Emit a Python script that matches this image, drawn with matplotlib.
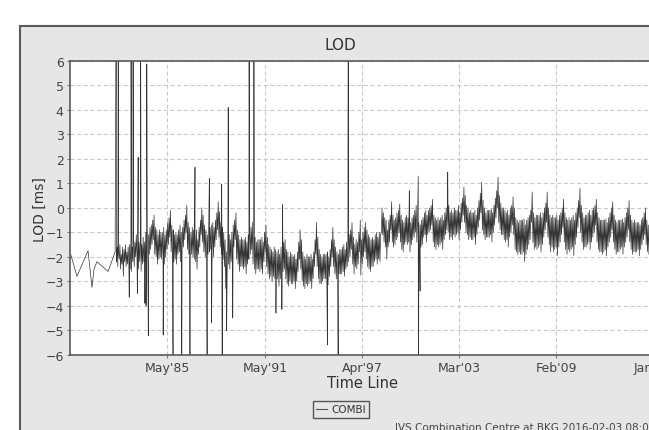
import matplotlib
matplotlib.use("Agg")
import matplotlib.pyplot as plt
from matplotlib.patches import Rectangle
from matplotlib.lines import Line2D
import pandas as pd

# sparse early sessions
early_dates = ['1979-06-15', '1979-11-01', '1980-07-05', '1980-10-01',
               '1980-11-15', '1981-01-20', '1981-09-25', '1982-03-01']
early_lod = [-1.9, -2.8, -1.75, -3.25, -2.5, -2.2, -2.6, -1.8]

# monthly upper / lower reading of the LOD band [ms], Apr 1982 .. Jan 2015
lod_high = [
    -1.6, -1.8, -1.5, -1.9, -1.6, -1.7, -1.5, -1.8, -1.6,                       # 1982 Apr-Dec
    -1.5, -1.3, -1.6, -1.2, -1.4, -1.1, -1.0, -1.4, -1.3, -1.5, -1.2, -1.4,    # 1983
    -1.0, -0.9, -1.1, -0.8, -0.7, -0.5, -0.3, -0.8, -0.9, -1.1, -0.9, -1.0,    # 1984
    -1.0, -0.8, -1.1, -0.9, -0.6, -0.4, -0.1, -0.7, -0.9, -1.1, -1.0, -1.1,    # 1985
    -0.9, -0.7, -1.0, -0.8, -0.5, -0.3, 0.1, -0.6, -0.8, -1.0, -0.8, -0.9,     # 1986
    -1.0, -0.9, -1.3, -0.8, -0.5, 0.0, -0.3, -0.7, -0.9, -1.1, -0.9, -0.8,     # 1987
    -0.7, -0.6, -0.8, -0.5, -0.2, 0.25, -0.15, -0.6, -0.8, -1.0, -1.3, -1.8,   # 1988
    -1.4, -1.1, -1.3, -1.0, -0.7, -0.5, -0.2, -0.9, -1.1, -1.3, -1.2, -1.3,    # 1989
    -1.3, -1.2, -1.4, -1.1, -1.0, -0.8, -0.6, -1.1, -1.2, -1.4, -1.3, -1.3,    # 1990
    -1.3, -1.2, -1.4, -1.0, -0.7, -1.2, -1.5, -1.6, -1.7, -1.8, -1.6, -1.7,    # 1991
    -1.8, -1.7, -1.9, -1.6, -1.5, -1.4, -1.3, -1.7, -1.8, -2.0, -1.8, -1.9,    # 1992
    -2.0, -1.9, -2.1, -1.8, -1.4, -0.9, -1.3, -1.8, -2.0, -2.1, -1.9, -2.0,    # 1993
    -2.0, -1.9, -2.1, -1.8, -1.3, -0.6, -1.2, -1.7, -1.9, -2.0, -1.9, -1.9,    # 1994
    -1.9, -1.8, -2.0, -1.7, -1.3, -0.8, -1.3, -1.6, -1.8, -1.9, -1.7, -1.7,    # 1995
    -1.6, -1.5, -1.7, -1.4, -1.3, -1.1, -0.9, -0.6, -1.2, -1.5, -1.3, -1.4,    # 1996
    -1.0, -0.5, -1.3, -1.0, -0.8, -0.6, -0.9, -1.1, -1.2, -1.3, -1.2, -1.3,    # 1997
    -1.1, -1.0, -1.2, -1.0, -1.1, 0.0, -0.2, -0.4, -0.5, -0.9, -0.5, -0.3,     # 1998
    0.25, -0.3, -0.5, -0.4, -0.2, -0.1, 0.15, -0.3, -0.5, -0.6, -0.4, -0.3,    # 1999
    -0.4, -0.3, -0.6, -0.4, -0.3, -0.1, 0.1, -0.4, -0.6, -0.7, -0.5, -0.4,     # 2000
    -0.2, -0.1, -0.3, -0.1, 0.0, 0.1, 0.35, -0.3, -0.4, -0.5, -0.4, -0.5,      # 2001
    -0.4, -0.3, -0.5, -0.2, 0.0, 0.2, 0.1, -0.2, -0.1, -0.2, 0.0, -0.1,        # 2002
    -0.1, 0.1, -0.2, 0.2, 0.4, 0.85, 0.5, 0.1, 0.0, -0.2, -0.1, -0.2,          # 2003
    -0.2, -0.1, -0.3, 0.0, 0.3, 0.6, 1.05, 0.3, 0.0, -0.2, -0.1, -0.1,         # 2004
    -0.1, -0.05, -0.2, 0.1, 0.4, 0.7, 1.25, 0.5, 0.2, 0.0, 0.0, -0.1,          # 2005
    -0.2, -0.1, -0.3, 0.0, 0.1, 0.45, 0.0, -0.4, -0.5, -0.6, -0.5, -0.5,       # 2006
    -0.5, -0.45, -0.7, -0.5, -0.4, -0.3, -0.1, 0.65, -0.2, -0.4, -0.3, -0.3,   # 2007
    -0.3, -0.2, -0.4, -0.2, 0.0, 0.2, 0.65, 0.0, -0.3, -0.4, -0.3, -0.4,       # 2008
    -0.4, -0.3, -0.5, -0.3, -0.2, 0.0, 0.35, -0.2, -0.4, -0.5, -0.4, -0.5,     # 2009
    -0.4, -0.3, -0.5, -0.2, 0.0, 0.3, 0.8, 0.1, -0.2, -0.4, -0.3, -0.3,        # 2010
    -0.2, -0.1, -0.3, -0.1, 0.0, 0.1, 0.35, -0.2, -0.4, -0.5, -0.5, -0.5,      # 2011
    -0.5, -0.45, -0.6, -0.4, -0.2, 0.0, 0.25, -0.3, -0.5, -0.6, -0.5, -0.5,    # 2012
    -0.5, -0.45, -0.6, -0.4, -0.2, 0.0, 0.3, -0.3, -0.5, -0.6, -0.5, -0.6,     # 2013
    -0.6, -0.6, -0.7, -0.5, -0.4, -0.2, 0.0, -0.5, -0.7, -0.8, -0.7, -0.7,     # 2014
    -0.8,                                                                       # 2015 Jan
]
lod_low = [
    -2.2, -2.4, -2.1, -2.5, -2.3, -2.8, -2.2, -2.4, -2.3,                       # 1982 Apr-Dec
    -2.3, -2.5, -2.6, -2.2, -2.4, -2.0, -1.9, -2.5, -2.2, -2.6, -2.3, -2.2,    # 1983
    -2.0, -2.1, -2.3, -1.9, -1.7, -1.5, -1.3, -1.9, -2.0, -2.3, -2.1, -2.0,    # 1984
    -2.1, -1.9, -2.3, -2.0, -1.7, -1.5, -1.2, -1.8, -2.0, -2.2, -2.1, -2.3,    # 1985
    -1.9, -1.8, -2.2, -1.9, -1.6, -1.3, -1.0, -1.7, -1.9, -2.1, -1.9, -2.0,    # 1986
    -2.1, -2.2, -2.5, -1.9, -1.6, -1.1, -1.4, -1.8, -2.0, -2.1, -1.9, -1.8,    # 1987
    -1.7, -1.6, -2.0, -1.6, -1.3, -0.9, -1.2, -1.6, -1.9, -2.1, -2.4, -3.3,    # 1988
    -2.6, -2.3, -2.5, -2.2, -1.9, -1.6, -1.3, -2.1, -2.3, -2.6, -2.4, -2.4,    # 1989
    -2.5, -2.4, -2.7, -2.3, -2.1, -1.9, -1.7, -2.3, -2.5, -2.7, -2.5, -2.5,    # 1990
    -2.6, -2.5, -2.7, -2.2, -1.8, -2.4, -2.7, -2.9, -2.8, -3.0, -2.8, -2.9,    # 1991
    -3.0, -2.9, -3.2, -2.9, -2.7, -2.6, -2.5, -2.9, -3.1, -3.2, -3.0, -3.1,    # 1992
    -3.1, -3.0, -3.3, -3.0, -2.6, -2.1, -2.5, -3.0, -3.2, -3.3, -3.1, -3.2,    # 1993
    -3.1, -3.0, -3.3, -2.9, -2.4, -1.9, -2.4, -2.9, -3.1, -3.1, -3.0, -2.9,    # 1994
    -2.9, -3.0, -3.15, -2.8, -2.4, -2.0, -2.4, -2.7, -2.9, -2.8, -2.7, -2.7,   # 1995
    -2.7, -2.6, -2.8, -2.5, -2.4, -2.2, -2.0, -1.7, -2.3, -2.7, -2.4, -2.5,    # 1996
    -2.3, -1.8, -2.75, -2.3, -2.0, -1.8, -2.1, -2.4, -2.5, -2.6, -2.4, -2.4,   # 1997
    -2.2, -2.1, -2.3, -2.1, -2.2, -1.0, -1.1, -1.4, -1.6, -2.1, -1.6, -1.4,    # 1998
    -0.9, -1.4, -1.6, -1.5, -1.3, -1.2, -1.0, -1.4, -1.7, -1.8, -1.5, -1.4,    # 1999
    -1.5, -1.4, -1.8, -1.5, -1.3, -1.2, -1.0, -1.4, -1.7, -1.8, -1.6, -1.5,    # 2000
    -1.2, -1.1, -1.4, -1.1, -1.0, -0.9, -0.7, -1.4, -1.6, -1.7, -1.5, -1.6,    # 2001
    -1.5, -1.4, -1.7, -1.3, -1.1, -0.9, -1.0, -1.3, -1.2, -1.3, -1.1, -1.2,    # 2002
    -1.1, -1.0, -1.3, -0.9, -0.6, -0.3, -0.6, -1.0, -1.1, -1.3, -1.2, -1.3,    # 2003
    -1.3, -1.2, -1.5, -1.1, -0.8, -0.5, -0.2, -0.9, -1.1, -1.3, -1.2, -1.2,    # 2004
    -1.2, -1.1, -1.4, -1.0, -0.7, -0.4, 0.0, -0.6, -0.9, -1.1, -1.1, -1.3,     # 2005
    -1.4, -1.3, -1.6, -1.2, -1.0, -0.7, -1.1, -1.7, -1.8, -1.9, -1.8, -1.9,    # 2006
    -1.9, -1.8, -2.2, -1.9, -1.7, -1.5, -1.3, -0.6, -1.4, -1.7, -1.6, -1.7,    # 2007
    -1.6, -1.5, -1.8, -1.5, -1.2, -0.9, -0.6, -1.2, -1.5, -1.8, -1.6, -1.8,    # 2008
    -1.7, -1.6, -1.95, -1.6, -1.4, -1.1, -0.8, -1.4, -1.7, -1.9, -1.7, -1.8,   # 2009
    -1.7, -1.6, -1.95, -1.5, -1.2, -0.8, -0.4, -1.0, -1.4, -1.7, -1.6, -1.6,   # 2010
    -1.5, -1.4, -1.7, -1.4, -1.2, -1.0, -0.7, -1.4, -1.7, -1.8, -1.8, -1.9,    # 2011
    -1.8, -1.7, -1.95, -1.6, -1.4, -1.2, -0.9, -1.4, -1.7, -1.9, -1.8, -1.8,   # 2012
    -1.7, -1.6, -1.9, -1.6, -1.4, -1.2, -0.9, -1.4, -1.7, -1.9, -1.8, -1.8,    # 2013
    -1.8, -1.7, -1.95, -1.7, -1.5, -1.3, -1.1, -1.5, -1.8, -1.9, -1.8, -1.8,   # 2014
    -1.6,                                                                       # 2015 Jan
]

# outlier sessions (spikes)
spike_dates = ['1982-03-25', '1982-05-10', '1983-02-20', '1983-04-05', '1983-09-20',
               '1984-02-05', '1983-07-28', '1987-01-15', '1987-12-01', '1988-09-01',
               '1989-01-25', '1990-05-05', '1990-08-20', '1992-05-20', '1996-05-25',
               '2000-02-15', '2000-09-01', '2002-06-20',
               '1983-01-10', '1983-07-10', '1983-12-25', '1984-01-20', '1984-03-10',
               '1985-02-05', '1985-09-15', '1986-03-25', '1986-09-25', '1987-10-15',
               '1988-01-20', '1988-09-15', '1988-12-20', '1989-05-05', '1991-12-25',
               '1992-05-05', '1995-02-15', '1995-10-15', '2000-09-05', '2000-10-12']
spike_lod = [9.0, 9.0, 9.0, 9.0, 9.0,
             5.88, 2.07, 1.66, 1.2, 0.97,
             4.1, 9.0, 9.0, 0.13, 12.0,
             0.7, 1.3, 1.45,
             -3.65, -3.5, -3.9, -4.0, -5.23,
             -5.2, -9.0, -9.0, -9.0, -9.0,
             -4.7, -9.0, -5.03, -4.5, -4.3,
             -4.15, -5.6, -9.0, -9.0, -3.4]

tick_dates = ['1985-05-01', '1991-05-01', '1997-04-01', '2003-03-01', '2009-02-01', '2015-01-01']
tick_labels = ["May'85", "May'91", "Apr'97", "Mar'03", "Feb'09", "Jan'15"]

months = pd.date_range('1982-04-01', periods=len(lod_low), freq='MS')
series = pd.concat([
    pd.Series(early_lod, index=pd.to_datetime(early_dates)),
    pd.Series(lod_low, index=months),
    pd.Series(lod_high, index=months + pd.Timedelta(days=15)),
    pd.Series(spike_lod, index=pd.to_datetime(spike_dates)),
]).sort_index()

W, H = 649, 431
fig = plt.figure(figsize=(W / 100, H / 100), dpi=100)
fig.patch.set_facecolor('white')

# grey chart panel (runs off the right and bottom edge)
fig.patches.append(Rectangle((20 / W, -0.2), 1.5, 1.2 - 27 / H,
                             transform=fig.transFigure, facecolor='#e6e6e6',
                             edgecolor='#5a5a5a', linewidth=1.5, zorder=-10))

left, right, top, bottom = 70, 700, 62, 355.7
ax = fig.add_axes([left / W, 1 - bottom / H, (right - left) / W, (bottom - top) / H])
ax.set_zorder(1)
ax.set_facecolor('white')

ax.plot(series.index, series.values, color='#333333', linewidth=0.5)

ax.set_xlim(pd.Timestamp('1979-05-30'), pd.Timestamp('2017-11-13'))
ax.set_ylim(-6, 6)
ax.set_yticks(range(-6, 7))
ax.set_xticks(pd.to_datetime(tick_dates))
ax.set_xticklabels(tick_labels)

ax.grid(True, color='#c8c8c8', linewidth=0.8, linestyle=(0, (3.6, 2.4)))
ax.set_axisbelow(True)
for side in ['left', 'bottom', 'top']:
    ax.spines[side].set_color('#5a5a5a')
    ax.spines[side].set_linewidth(1.2)
ax.spines['right'].set_visible(False)
ax.tick_params(axis='both', length=2, width=0.8, color='#777777',
               labelsize=9, labelcolor='#444444', pad=2.5)

fig.text(340.5 / W, 1 - 45 / H, 'LOD', ha='center', va='center',
         fontsize=11, color='#333333')
fig.text(362.5 / W, 1 - 384 / H, 'Time Line', ha='center', va='center',
         fontsize=10.5, color='#333333')
fig.text(40 / W, 1 - 210 / H, 'LOD [ms]', ha='center', va='center',
         rotation=90, fontsize=10, color='#333333')

handle = Line2D([], [], color='#555555', linewidth=0.8)
leg = fig.legend([handle], ['COMBI'], loc='center', bbox_to_anchor=(341 / W, 1 - 410.5 / H),
                 fontsize=7.5, handlelength=1.0, handletextpad=0.4, borderpad=0.3,
                 fancybox=False, framealpha=1, facecolor='#e6e6e6', edgecolor='#555555')
leg.get_frame().set_linewidth(1.0)
for t in leg.get_texts():
    t.set_color('#333333')

fig.text(395 / W, 1 - 428 / H, 'IVS Combination Centre at BKG 2016-02-03 08:03:52',
         ha='left', va='center', fontsize=7.5, color='#444444')

fig.savefig('out.png', dpi=100)
